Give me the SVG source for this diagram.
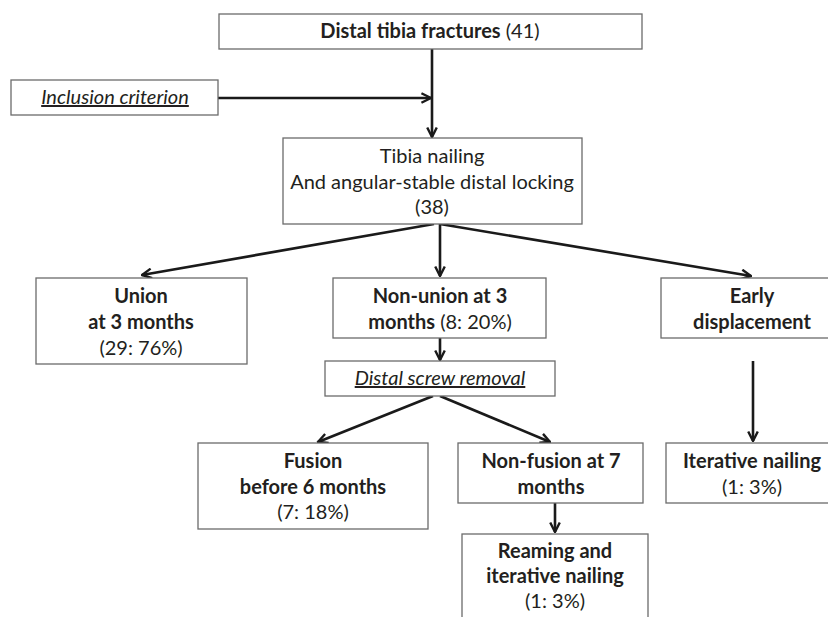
<svg xmlns="http://www.w3.org/2000/svg" width="828" height="617" viewBox="0 0 828 617">
<style>
.box{fill:#fff;stroke:#6b6b6b;stroke-width:1.3}
.t{font-family:Lato,"Open Sans","Liberation Sans",sans-serif;font-size:20px;fill:#231f20;text-anchor:middle}
.b{font-weight:bold}
.i{font-style:italic;text-decoration:underline}
.c{stroke:#1a1a1a;stroke-width:2.6;fill:none}
</style>
<defs>
<marker id="ah" viewBox="0 0 10 10" refX="9" refY="5" markerWidth="4.6" markerHeight="4.6" orient="auto" markerUnits="strokeWidth">
<path d="M1,1 L9,5 L1,9" fill="none" stroke="#1a1a1a" stroke-width="2"/>
</marker>
</defs>
<rect width="828" height="617" fill="#fff"/>
<g id="connectors">
<line class="c" x1="218" y1="98" x2="431" y2="98" marker-end="url(#ah)"/>
<line class="c" x1="432" y1="49" x2="432" y2="137" marker-end="url(#ah)"/>
<line class="c" x1="434" y1="224" x2="142" y2="275" marker-end="url(#ah)"/>
<line class="c" x1="440" y1="224" x2="440" y2="276" marker-end="url(#ah)"/>
<line class="c" x1="440" y1="224" x2="751" y2="276" marker-end="url(#ah)"/>
<line class="c" x1="440" y1="338" x2="440" y2="360" marker-end="url(#ah)"/>
<line class="c" x1="753" y1="361" x2="753" y2="441" marker-end="url(#ah)"/>
<line class="c" x1="433" y1="396" x2="318" y2="442" marker-end="url(#ah)"/>
<line class="c" x1="440" y1="396" x2="550" y2="442" marker-end="url(#ah)"/>
<line class="c" x1="555" y1="503" x2="555" y2="532" marker-end="url(#ah)"/>
</g>
<g id="n_top">
<rect class="box" x="219" y="14" width="423" height="35"/>
<text class="t" x="430" y="38"><tspan class="b">Distal tibia fractures</tspan> (41)</text>
</g>
<g id="n_incl">
<rect class="box" x="11" y="80" width="207" height="35"/>
<text class="t i" x="115" y="104">Inclusion criterion</text>
</g>
<g id="n_nail">
<rect class="box" x="283" y="138" width="299" height="86"/>
<text class="t" x="432" y="163">Tibia nailing</text>
<text class="t" x="432" y="189">And angular-stable distal locking</text>
<text class="t" x="432" y="214">(38)</text>
</g>
<g id="n_union">
<rect class="box" x="36" y="278" width="211" height="86"/>
<text class="t b" x="141" y="303">Union</text>
<text class="t b" x="141" y="329">at 3 months</text>
<text class="t" x="141" y="355">(29: 76%)</text>
</g>
<g id="n_nonunion">
<rect class="box" x="333" y="278" width="213" height="60"/>
<text class="t b" x="440" y="303">Non-union at 3</text>
<text class="t" x="440" y="329"><tspan class="b">months</tspan> (8: 20%)</text>
</g>
<g id="n_early">
<rect class="box" x="661" y="278" width="182" height="60"/>
<text class="t b" x="752" y="303">Early</text>
<text class="t b" x="752" y="329">displacement</text>
</g>
<g id="n_screw">
<rect class="box" x="325" y="361" width="230" height="35"/>
<text class="t i" x="440" y="385">Distal screw removal</text>
</g>
<g id="n_fusion">
<rect class="box" x="198" y="443" width="230" height="86"/>
<text class="t b" x="313" y="468">Fusion</text>
<text class="t b" x="313" y="494">before 6 months</text>
<text class="t" x="313" y="519">(7: 18%)</text>
</g>
<g id="n_nonfusion">
<rect class="box" x="458" y="443" width="185" height="60"/>
<text class="t b" x="551" y="468">Non-fusion at 7</text>
<text class="t b" x="551" y="494">months</text>
</g>
<g id="n_iter">
<rect class="box" x="666" y="443" width="177" height="60"/>
<text class="t b" x="752" y="468">Iterative nailing</text>
<text class="t" x="752" y="494">(1: 3%)</text>
</g>
<g id="n_ream">
<rect class="box" x="462" y="534" width="186" height="90"/>
<text class="t b" x="555" y="558">Reaming and</text>
<text class="t b" x="555" y="583">iterative nailing</text>
<text class="t" x="555" y="608">(1: 3%)</text>
</g>
</svg>
